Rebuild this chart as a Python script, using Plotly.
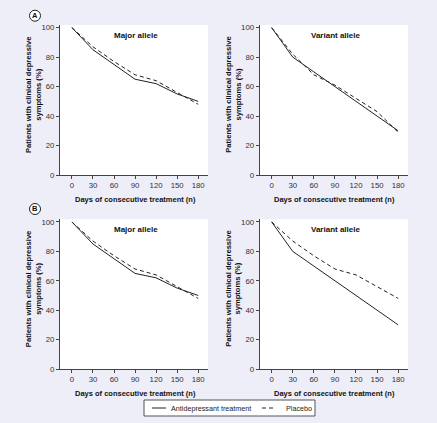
import plotly.graph_objects as go

W, H = 437, 423
days = [0, 30, 60, 90, 120, 150, 180]
x_ticks = [0, 30, 60, 90, 120, 150, 180]
y_ticks = [0, 20, 40, 60, 80, 100]

major_antidep_A = [100, 85, 75, 65, 62, 55, 50]
major_placebo_A = [100, 87, 77, 68, 64, 56, 48]
variant_antidep_A = [100, 80, 70, 60, 50, 40, 30]
variant_placebo_A = [100, 82, 68, 61, 52, 43, 29]
major_antidep_B = [100, 85, 75, 65, 62, 55, 50]
major_placebo_B = [100, 87, 77, 68, 64, 56, 48]
variant_antidep_B = [100, 80, 70, 60, 50, 40, 30]
variant_placebo_B = [100, 87, 77, 68, 64, 56, 48]

panel_titles = ["Major allele", "Variant allele", "Major allele", "Variant allele"]
series = [
    (major_antidep_A, major_placebo_A),
    (variant_antidep_A, variant_placebo_A),
    (major_antidep_B, major_placebo_B),
    (variant_antidep_B, variant_placebo_B),
]

def px(x):
    return x / W

def py(y):
    return 1 - y / H

# plot boxes in pixels: (left, right, top, bottom)
boxes = [
    (60, 208, 25, 175),
    (259.7, 408, 25, 175),
    (60, 208, 219.3, 369),
    (259.7, 408, 219.3, 369),
]

FONT = "Liberation Sans, Arial, sans-serif"
LINE = "#222222"
AX = "#444444"
BG = "#EEEEF9"

fig = go.Figure()
layout = dict(
    width=W, height=H,
    margin=dict(l=0, r=0, t=0, b=0),
    paper_bgcolor=BG,
    plot_bgcolor="white",
    showlegend=False,
    font=dict(family=FONT, size=8, color="#333333"),
)
annotations = []
shapes = []

def ann(x, y, text, size=8, color="#111111", xanchor="center", angle=0):
    annotations.append(dict(x=px(x), y=py(y), xref="paper", yref="paper",
                            text=text, showarrow=False, xanchor=xanchor, yanchor="middle",
                            textangle=angle, font=dict(size=size, color=color)))

for i, ((ad, pl), (l, r, t, b)) in enumerate(zip(series, boxes)):
    n = i + 1
    xa = "x" if n == 1 else f"x{n}"
    ya = "y" if n == 1 else f"y{n}"
    fig.add_trace(go.Scatter(x=days, y=ad, mode="lines", xaxis=xa, yaxis=ya,
                             line=dict(color=LINE, width=1), name="Antidepressant treatment"))
    fig.add_trace(go.Scatter(x=days, y=pl, mode="lines", xaxis=xa, yaxis=ya,
                             line=dict(color=LINE, width=1, dash="4px,3px"), name="Placebo"))
    key = "" if n == 1 else str(n)
    layout["xaxis" + key] = dict(
        domain=[px(l), px(r)], anchor=ya, range=[-17, 194],
        tickvals=x_ticks, ticks="outside", ticklen=3, tickcolor=AX,
        showline=True, linecolor=AX, linewidth=1, showgrid=False, zeroline=False,
        tickfont=dict(size=7.8, color="#333333"), fixedrange=True, automargin=False,
    )
    layout["yaxis" + key] = dict(
        domain=[py(b), py(t)], anchor=xa, range=[0, 101.8],
        tickvals=y_ticks, ticks="outside", ticklen=3, tickcolor=AX,
        showline=True, linecolor=AX, linewidth=1, showgrid=False, zeroline=False,
        tickfont=dict(size=7.8, color="#333333"), fixedrange=True, automargin=False,
    )
    cx = (l + r) / 2
    ann(cx + 2, t + 10, "<b>%s</b>" % panel_titles[i], size=8)
    ann((l + 12 + r - 10) / 2, b + 24, "<b>Days of consecutive treatment (n)</b>", size=7.5)
    ann(l - 27, (t + b) / 2 - 5, "<b>Patients with clinical depressive<br>symptoms (%)</b>",
        size=7.6, angle=-90)

# circled panel labels
for lab, cy in [("A", 15.7), ("B", 209)]:
    shapes.append(dict(type="circle", xref="paper", yref="paper",
                       x0=px(35 - 5.5), x1=px(35 + 5.5), y0=py(cy + 5.5), y1=py(cy - 5.5),
                       line=dict(color="#222222", width=1), fillcolor="white"))
    ann(35, cy, "<b>%s</b>" % lab, size=7.5)

# legend box
shapes.append(dict(type="rect", xref="paper", yref="paper",
                   x0=px(144), x1=px(315), y0=py(416), y1=py(400),
                   line=dict(color="#555555", width=1), fillcolor="white"))
shapes.append(dict(type="line", xref="paper", yref="paper",
                   x0=px(152), x1=px(166), y0=py(408), y1=py(408),
                   line=dict(color=LINE, width=1)))
shapes.append(dict(type="line", xref="paper", yref="paper",
                   x0=px(262), x1=px(275), y0=py(408), y1=py(408),
                   line=dict(color=LINE, width=1, dash="4px,3px")))
ann(169, 408, "Antidepressant treatment", size=7.2, color="#222222", xanchor="left")
ann(284, 408, "Placebo", size=7.2, color="#222222", xanchor="left")

layout["annotations"] = annotations
layout["shapes"] = shapes
fig.update_layout(**layout)
fig.write_html("out.html", config={"displayModeBar": False},
               post_script="document.body.style.margin='0';document.body.style.background='%s';" % BG)
